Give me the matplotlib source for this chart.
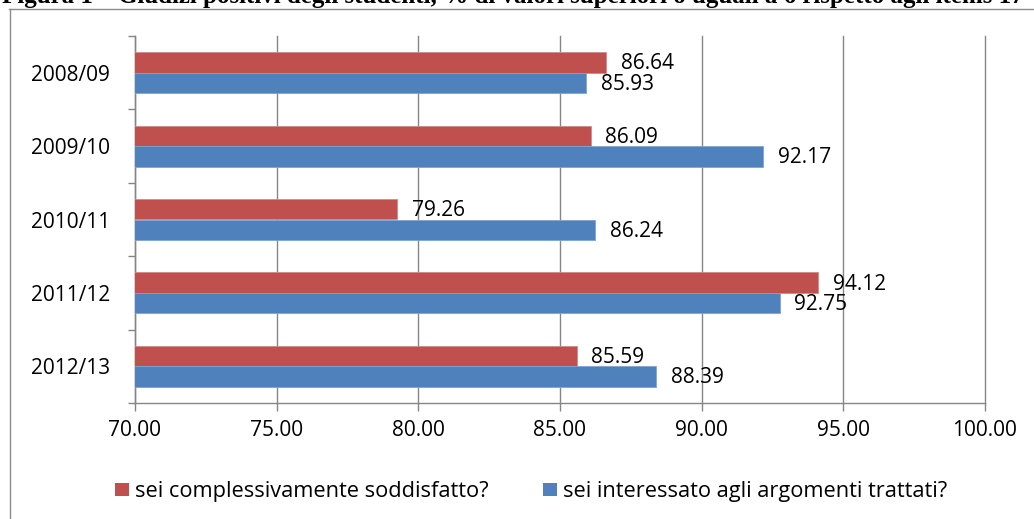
import matplotlib
matplotlib.use("Agg")
import matplotlib.pyplot as plt
from matplotlib.patches import Rectangle
from matplotlib.lines import Line2D
import numpy as np

# ---- data ----
categories = ["2008/09", "2009/10", "2010/11", "2011/12", "2012/13"]
series_names = ["sei complessivamente soddisfatto?", "sei interessato agli argomenti trattati?"]
soddisfatto = [86.64, 86.09, 79.26, 94.12, 85.59]
interessato = [85.93, 92.17, 86.24, 92.75, 88.39]
x_ticks = [70, 75, 80, 85, 90, 95, 100]
title_text = "Figura 1 \u2013 Giudizi positivi degli studenti, % di valori superiori o uguali a 6 rispetto agli items 17"

RED = "#C0504D"
BLUE = "#4F81BD"
GRID = "#868686"
FONT = "Open Sans"
FS = 15

W, H = 1034, 519
DPI = 100
plt.rcParams["font.family"] = [FONT, "DejaVu Sans"]
fig = plt.figure(figsize=(W / DPI, H / DPI), dpi=DPI)


def fx(x):
    return x / W


def fy(y):
    return 1 - y / H


# axes in pixel coords
L, R, T, B = 135, 985, 36, 403
ax = fig.add_axes([fx(L), fy(B), (R - L) / W, (B - T) / H])

n = len(categories)
y = np.arange(n)
bh = 0.28
ax.barh(y - bh / 2, soddisfatto, height=bh, color=RED, edgecolor="#D08A88",
        linewidth=0.6, zorder=3)
ax.barh(y + bh / 2, interessato, height=bh, color=BLUE, edgecolor="#7FA3D0",
        linewidth=0.6, zorder=3)

ax.set_xlim(70, 100)
ax.set_ylim(n - 0.5, -0.5)

# data labels
for i in range(n):
    ax.annotate(f"{soddisfatto[i]:.2f}", (soddisfatto[i], y[i] - bh / 2),
                xytext=(10.5, -1.0), textcoords="offset points", va="center",
                ha="left", fontsize=FS, color="black", zorder=4)
    ax.annotate(f"{interessato[i]:.2f}", (interessato[i], y[i] + bh / 2),
                xytext=(10.5, -1.0), textcoords="offset points", va="center",
                ha="left", fontsize=FS, color="black", zorder=4)

# x axis
ax.set_xticks(x_ticks)
ax.set_xticklabels([f"{v:.2f}" for v in x_ticks], fontsize=FS)
ax.tick_params(axis="x", direction="out", length=6, width=1, color=GRID, pad=6)
ax.grid(axis="x", color=GRID, linewidth=1.0, zorder=0)
for gl in ax.get_xgridlines():
    gl.set_clip_on(False)
ax.set_axisbelow(True)

# y axis: ticks at boundaries, labels at centres
ax.set_yticks(np.arange(-0.5, n, 1.0))
ax.set_yticklabels([])
ax.set_yticks(y, minor=True)
ax.set_yticklabels(categories, minor=True, fontsize=FS)
ax.tick_params(axis="y", which="major", direction="out", length=5, width=1, color=GRID)
ax.tick_params(axis="y", which="minor", length=0, pad=18)

for s in ["top", "right"]:
    ax.spines[s].set_visible(False)
for s in ["left", "bottom"]:
    ax.spines[s].set_color(GRID)
    ax.spines[s].set_linewidth(1.0)

# legend (manual, pixel placed); font size fitted to the reference text width
renderer = fig.canvas.get_renderer()
probe = fig.text(0, 0, series_names[1], fontsize=FS)
w_probe = probe.get_window_extent(renderer).width
probe.remove()
leg_fs = FS * 385.0 / w_probe

leg_y = 489.5
entries = [(115, RED, series_names[0]), (543, BLUE, series_names[1])]
for x0, col, lab in entries:
    fig.add_artist(Rectangle((fx(x0), fy(leg_y + 6.5)), 14 / W, 13 / H,
                             transform=fig.transFigure, facecolor=col, edgecolor="none"))
    fig.text(fx(x0 + 20), fy(leg_y), lab, ha="left", va="center_baseline",
             fontsize=leg_fs)

# chart border (clipped by the image edges)
fig.add_artist(Line2D([fx(9.5), fx(9.5)], [fy(9), 0], transform=fig.transFigure,
                      color="#8C8C8C", linewidth=1.0))
fig.add_artist(Line2D([fx(9), 1], [fy(9), fy(9)], transform=fig.transFigure,
                      color="#8C8C8C", linewidth=1.0))

# clipped title at top
fig.text(fx(2), fy(3.5), title_text, ha="left", va="baseline",
         fontsize=18, fontweight="bold", family="Liberation Serif")

fig.savefig("out.png", dpi=DPI, facecolor="white")
